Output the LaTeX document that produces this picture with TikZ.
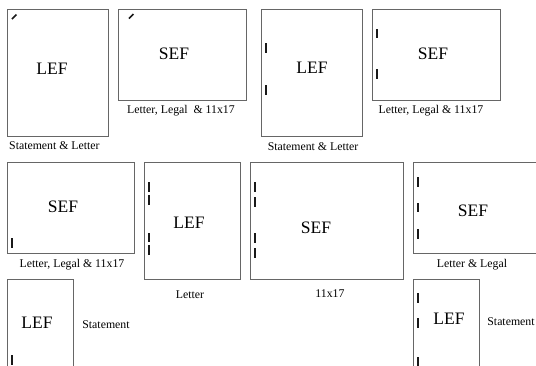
\documentclass[tikz,border=0pt]{standalone}
\usepackage{fontspec}
\setmainfont{Liberation Serif}
\begin{document}
\begin{tikzpicture}[x=1pt,y=-1pt,
  paper/.style={draw=black!60,line width=1.1pt,inner sep=0pt,anchor=north west},
  big/.style={font=\fontsize{17.5}{17.5}\selectfont,inner sep=0pt},
  lbl/.style={font=\fontsize{11.8}{11.8}\selectfont,inner sep=0pt},
  staple/.style={line width=1.7pt,black!90}]
\useasboundingbox (0,0) rectangle (536,365);
\clip (0,0) rectangle (536,365);
% row 1
\node[paper,minimum width=101pt,minimum height=127pt] (b1) at (7,9) {};
\node[big] (t1) at (52,69) {LEF};
\node[lbl,anchor=west] (c1) at (9,146) {Statement \& Letter};
\coordinate (s1a) at (12,19); \coordinate (s1b) at (16.5,14.5);
\draw[staple] (s1a) -- (s1b);

\node[paper,minimum width=128pt,minimum height=91pt] (b2) at (118,9) {};
\node[big] (t2) at (174,54) {SEF};
\node[lbl] (c2) at (181,111) {Letter, Legal\ \ \& 11x17};
\coordinate (s2a) at (129,18.5); \coordinate (s2b) at (133.5,14);
\draw[staple] (s2a) -- (s2b);

\node[paper,minimum width=101pt,minimum height=127pt] (b3) at (261,9) {};
\node[big] (t3) at (312,68) {LEF};
\node[lbl] (c3) at (313,147) {Statement \& Letter};
\coordinate (s3a) at (266,43); \coordinate (s3b) at (266,53);
\coordinate (s3c) at (266,85); \coordinate (s3d) at (266,95);
\draw[staple] (s3a) -- (s3b) (s3c) -- (s3d);

\node[paper,minimum width=128pt,minimum height=91pt] (b4) at (372,9) {};
\node[big] (t4) at (433,54) {SEF};
\node[lbl] (c4) at (431,111) {Letter, Legal \& 11x17};
\coordinate (s4a) at (377,29); \coordinate (s4b) at (377,38);
\coordinate (s4c) at (377,69); \coordinate (s4d) at (377,79);
\draw[staple] (s4a) -- (s4b) (s4c) -- (s4d);

% row 2
\node[paper,minimum width=127pt,minimum height=91pt] (b5) at (7,162) {};
\node[big] (t5) at (63,207) {SEF};
\node[lbl] (c5) at (72,265) {Letter, Legal \& 11x17};
\coordinate (s5a) at (12,238); \coordinate (s5b) at (12,248);
\draw[staple] (s5a) -- (s5b);

\node[paper,minimum width=96pt,minimum height=117pt] (b6) at (144,162) {};
\node[big] (t6) at (189,223) {LEF};
\node[lbl] (c6) at (190,295) {Letter};
\coordinate (s6a) at (149,182); \coordinate (s6b) at (149,192);
\coordinate (s6c) at (149,195); \coordinate (s6d) at (149,205);
\coordinate (s6e) at (149,233); \coordinate (s6f) at (149,242);
\coordinate (s6g) at (149,245); \coordinate (s6h) at (149,255);
\draw[staple] (s6a) -- (s6b) (s6c) -- (s6d) (s6e) -- (s6f) (s6g) -- (s6h);

\node[paper,minimum width=153pt,minimum height=117pt] (b7) at (250,162) {};
\node[big] (t7) at (316,228) {SEF};
\node[lbl] (c7) at (330,294) {11x17};
\coordinate (s7a) at (255,182); \coordinate (s7b) at (255,192);
\coordinate (s7c) at (255,197); \coordinate (s7d) at (255,207);
\coordinate (s7e) at (255,233); \coordinate (s7f) at (255,243);
\coordinate (s7g) at (255,248); \coordinate (s7h) at (255,258);
\draw[staple] (s7a) -- (s7b) (s7c) -- (s7d) (s7e) -- (s7f) (s7g) -- (s7h);

\node[paper,minimum width=130pt,minimum height=91pt] (b8) at (413,162) {};
\node[big] (t8) at (473,211) {SEF};
\node[lbl] (c8) at (472,265) {Letter \& Legal};
\coordinate (s8a) at (418,177); \coordinate (s8b) at (418,187);
\coordinate (s8c) at (418,203); \coordinate (s8d) at (418,212);
\coordinate (s8e) at (418,229); \coordinate (s8f) at (418,239);
\draw[staple] (s8a) -- (s8b) (s8c) -- (s8d) (s8e) -- (s8f);

% row 3
\node[paper,minimum width=66pt,minimum height=110pt] (b9) at (7,279) {};
\node[big] (t9) at (37,323) {LEF};
\node[lbl] (c9) at (106,325) {Statement};
\coordinate (s9a) at (12,355); \coordinate (s9b) at (12,365);
\draw[staple] (s9a) -- (s9b);

\node[paper,minimum width=66pt,minimum height=110pt] (b10) at (413,279) {};
\node[big] (t10) at (449,319) {LEF};
\node[lbl] (c10) at (511,322) {Statement};
\coordinate (s10a) at (418,293); \coordinate (s10b) at (418,303);
\coordinate (s10c) at (418,318); \coordinate (s10d) at (418,328);
\coordinate (s10e) at (418,357); \coordinate (s10f) at (418,366);
\draw[staple] (s10a) -- (s10b) (s10c) -- (s10d) (s10e) -- (s10f);
\end{tikzpicture}
\end{document}
